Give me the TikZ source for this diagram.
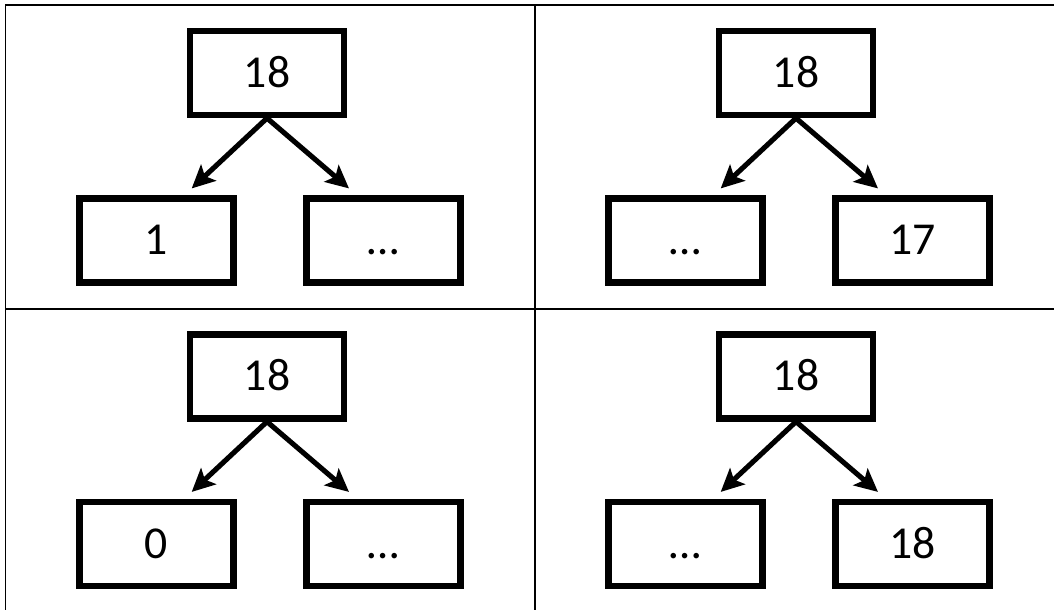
\documentclass[tikz,border=0pt]{standalone}
\usepackage{fontspec}
\setmainfont{Carlito}
\usetikzlibrary{arrows.meta}

\begin{document}
\begin{tikzpicture}[
  box/.style={draw, line width=1.8pt, minimum width=1.54cm, minimum height=0.84cm,
    inner sep=0pt, text height=0.29cm, text depth=0pt, font=\fontsize{13}{16}\selectfont},
  link/.style={line width=1.45pt, -{Stealth[length=0.23cm,width=0.22cm,inset=0.05cm]}},
  rule/.style={line width=0.55pt}]
\useasboundingbox (0,0) rectangle (10.54,6.10);
% table lines
\draw[rule] (0.055,0) -- (0.055,6.05) -- (10.54,6.05);
\draw[rule] (0.055,3.013) -- (10.54,3.013);
\draw[rule] (5.352,0) -- (5.352,6.05);
% one tree per cell
\foreach \x/\y/\l/\r [count=\i] in {2.67/5.37/1/…, 7.96/5.37/…/17,
    2.67/2.335/0/…, 7.96/2.335/…/18} {
  \node[box] (root\i) at (\x,\y) {18};
  \node[box] (left\i) at ([shift={(-1.106,-1.674)}]root\i) {\l};
  \node[box] (right\i) at ([shift={(1.165,-1.674)}]root\i) {\r};
  \draw[link] (root\i.south) -- ([shift={(0.353,0.068)}]left\i.north);
  \draw[link] (root\i.south) -- ([shift={(-0.345,0.068)}]right\i.north);
}
\end{tikzpicture}
\end{document}
